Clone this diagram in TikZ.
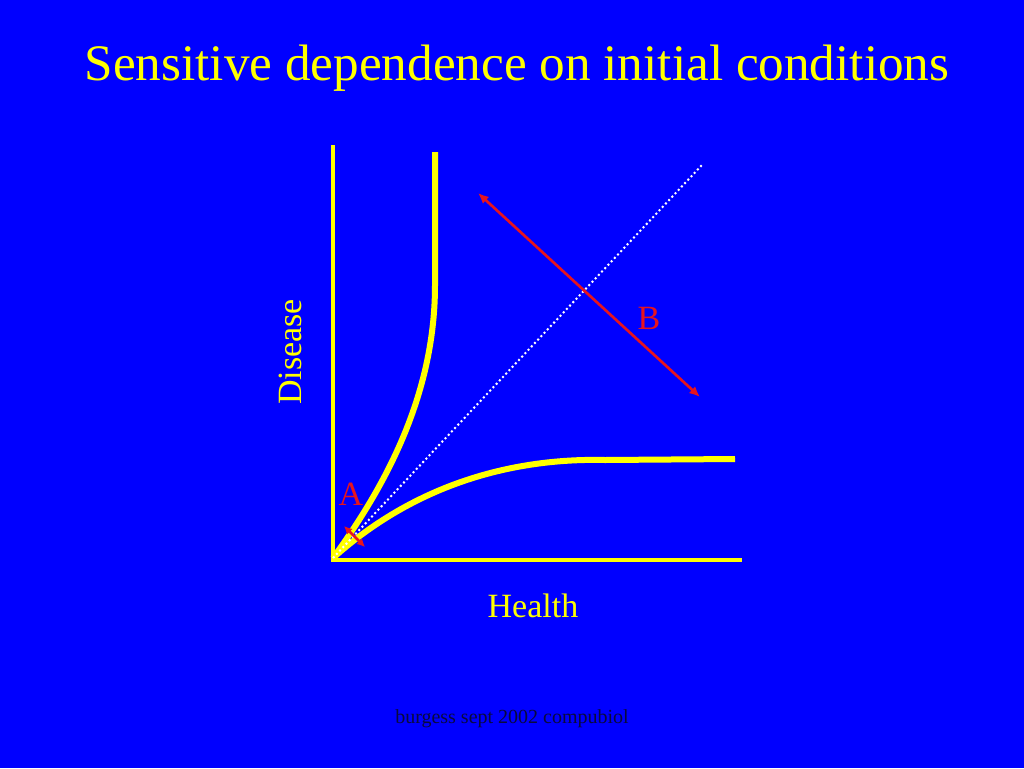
\documentclass[tikz,border=0pt]{standalone}
\usepackage{fontspec}
\setmainfont{Liberation Serif}
\definecolor{bg}{RGB}{0,0,255}
\definecolor{yel}{RGB}{255,255,0}
\definecolor{redd}{RGB}{230,20,30}
\definecolor{foot}{RGB}{10,10,60}
\usetikzlibrary{arrows.meta}
\begin{document}
\begin{tikzpicture}[x=0.75pt,y=-0.75pt,
  axis/.style={draw=yel,line width=2.4pt},
  curve/.style={draw=yel,line width=4.5pt},
  redarrow/.style={draw=redd,line width=2pt,{Latex[length=8pt,width=7pt]}-{Latex[length=8pt,width=7pt]}},
  lbl/.style={inner sep=0pt,font=\fontsize{25.5}{28}\selectfont}]
\fill[bg] (0,0) rectangle (1024,768);
\useasboundingbox (0,0) rectangle (1024,768);
\node[lbl,text=yel,font=\fontsize{38.4}{42}\selectfont] (title) at (517,68) {Sensitive dependence on initial conditions};
\coordinate (O) at (333,560);
\coordinate (ytop) at (333,145);
\coordinate (xend) at (742,560);
\draw[axis] (ytop) -- (O) -- (xend);
% curves
\coordinate (c1a) at (333,558);
\coordinate (c1b) at (435,285);
\coordinate (c1c) at (435,152);
\draw[curve] (c1a) .. controls (390,480) and (435,390) .. (c1b) -- (c1c);
\coordinate (c2b) at (605,460);
\coordinate (c2c) at (735,459);
\draw[curve] (c1a) .. controls (420,480) and (520,458) .. (c2b);
\draw[curve] (c2b) -- (c2c);
% dotted diagonal
\coordinate (dend) at (702,165);
\draw[white,line width=1.5pt,dotted] (c1a) -- (dend);
% red arrows
\coordinate (b1) at (478,193);
\coordinate (b2) at (700,397);
\draw[redarrow] (b1) -- (b2);
\coordinate (a1) at (344,526);
\coordinate (a2) at (365,547);
\draw[redarrow,{Latex[length=6pt,width=6pt]}-{Latex[length=6pt,width=6pt]}] (a1) -- (a2);
\node[lbl,text=redd] (A) at (351,494) {A};
\node[lbl,text=redd] (B) at (649,318) {B};
\node[lbl,text=yel,rotate=90] (dis) at (290,352) {Disease};
\node[lbl,text=yel] (health) at (533,606) {Health};
\node[lbl,text=foot,font=\fontsize{15}{17}\selectfont] (footer) at (512,719) {burgess sept 2002 compubiol};
\end{tikzpicture}
\end{document}
